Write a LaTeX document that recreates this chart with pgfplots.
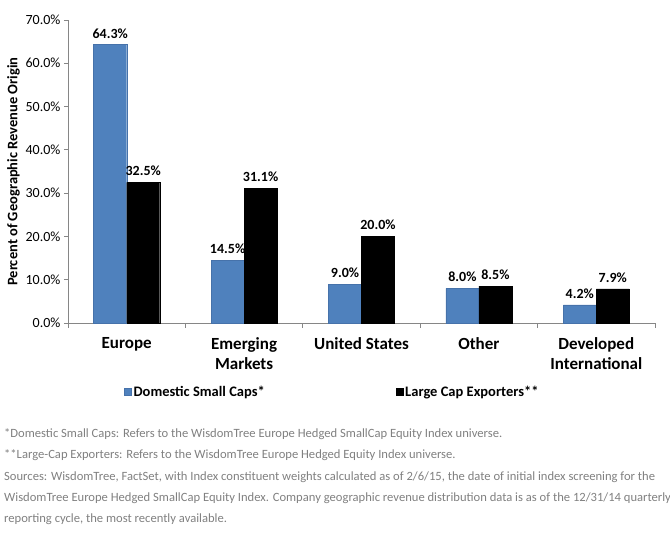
\documentclass[border=0pt]{standalone}
\usepackage{pgfplots}
\pgfplotsset{compat=1.18}
\usepackage{fontspec}
\setmainfont{Carlito}
\definecolor{barblue}{HTML}{4F81BD}
\definecolor{baredge}{HTML}{4672AA}
\definecolor{axisgray}{HTML}{868686}
\definecolor{notegray}{HTML}{808080}
\begin{document}
\begin{tikzpicture}[x=1pt,y=1pt]
\useasboundingbox (0,0) rectangle (670,534);
\begin{axis}[
  at={(68pt,211pt)}, anchor=south west,
  scale only axis, width=587pt, height=303pt,
  xmin=-0.5, xmax=4.5, ymin=0, ymax=70,
  ybar=0pt, bar width=33pt,
  axis x line*=bottom, axis y line*=left,
  axis line style={axisgray, line width=0.8pt},
  tick style={axisgray, line width=0.8pt},
  tick align=outside,
  xtick={0,1,2,3,4},
  xticklabels={Europe,{Emerging\\Markets},United States,Other,{Developed\\International}},
  xticklabel style={align=center, font=\bfseries\fontsize{17}{20.5}\selectfont, yshift=-7pt},
  major x tick style={draw=none},
  minor xtick={-0.5,0.5,1.5,2.5,3.5,4.5},
  minor tick length=5pt, major tick length=4pt,
  ytick={0,10,20,30,40,50,60,70},
  yticklabel={\pgfmathprintnumber[fixed,fixed zerofill,precision=1]{\tick}\%},
  yticklabel style={font=\fontsize{14}{16}\selectfont},
  /pgf/number format/assume math mode=true,
  ylabel={Percent of Geographic Revenue Origin},
  ylabel style={font=\bfseries\fontsize{14.5}{16}\selectfont, yshift=-1pt},
  nodes near coords={\pgfmathprintnumber[fixed,fixed zerofill,precision=1,assume math mode=true]{\pgfplotspointmeta}\%},
  nodes near coords style={font=\bfseries\fontsize{14}{16}\selectfont, black, yshift=3pt},
  legend style={at={(0.0954,-0.228)}, anchor=west, draw=none, inner sep=0pt,
    legend columns=2, font=\bfseries\fontsize{14.5}{16}\selectfont,
    /tikz/every even column/.append style={column sep=129pt}},
  legend cell align=left,
  legend image code/.code={\fill[#1] (0pt,-3.5pt) rectangle (7pt,3.5pt);},
  clip=false,
]
\addplot[fill=barblue, draw=baredge] coordinates {(0,64.3) (1,14.5) (2,9.0) (3,8.0) (4,4.2)};
\addplot[fill=black, draw=black] coordinates {(0,32.5) (1,31.1) (2,20.0) (3,8.5) (4,7.9)};
\legend{Domestic Small Caps*, Large Cap Exporters**}
\end{axis}
\begin{scope}[every node/.style={anchor=base west, inner sep=0pt, text=notegray, font=\fontsize{12.6}{15}\selectfont}]
\node at (4,96) {*Domestic Small Caps: Refers to the WisdomTree Europe Hedged SmallCap Equity Index universe.};
\node at (4,75) {**Large-Cap Exporters: Refers to the WisdomTree Europe Hedged Equity Index universe.};
\node at (4,53) {Sources: WisdomTree, FactSet, with Index constituent weights calculated as of 2/6/15, the date of initial index screening for the};
\node at (4,32) {WisdomTree Europe Hedged SmallCap Equity Index. Company geographic revenue distribution data is as of the 12/31/14 quarterly};
\node at (4,11) {reporting cycle, the most recently available.};
\end{scope}
\end{tikzpicture}
\end{document}
